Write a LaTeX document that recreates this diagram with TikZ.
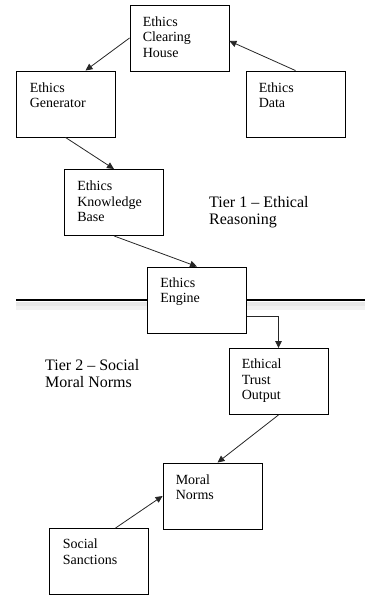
\documentclass[tikz,border=0pt]{standalone}
\usepackage{fontspec}
\setmainfont{Liberation Serif}
\usetikzlibrary{arrows.meta,calc}
\begin{document}
\begin{tikzpicture}[x=1pt,y=-1pt,
  box/.style={draw=black,fill=white,line width=0.9pt,minimum width=99pt,minimum height=66pt,inner sep=0pt},
  lab/.style={anchor=north west,inner sep=0pt,align=left,font=\fontsize{14}{15.5}\selectfont},
  tier/.style={anchor=north west,inner sep=0pt,align=left,font=\fontsize{16}{17}\selectfont},
  conn/.style={draw=black!85,line width=0.8pt,-{Triangle[length=7pt,width=6.5pt]}}]
\useasboundingbox (0,0) rectangle (365,596);
% tier divider with shadow
\coordinate (hl) at (16,300);
\coordinate (hr) at (365,300);
\draw[line width=8pt,black!5] ([yshift=-6pt]hl) -- ([yshift=-6pt]hr);
\draw[line width=4pt,black!9] ([yshift=-4pt]hl) -- ([yshift=-4pt]hr);
\draw[line width=2.2pt,black] (hl) -- (hr);
% boxes
\node[box] (ch) at (179.5,38) {};
\node[box] (gen) at (65.5,104) {};
\node[box] (data) at (295.5,104) {};
\node[box] (kb) at (114,202.5) {};
\node[box] (eng) at (197,300) {};
\node[box] (trust) at (278.5,381.5) {};
\node[box] (moral) at (212.5,496) {};
\node[box] (soc) at (98.5,561.5) {};
% labels
\node[lab] (chl) at ($(ch.north west)+(13,12)$) {Ethics\\Clearing\\House};
\node[lab] (genl) at ($(gen.north west)+(14,12)$) {Ethics\\Generator};
\node[lab] (datal) at ($(data.north west)+(13,12)$) {Ethics\\Data};
\node[lab] (kbl) at ($(kb.north west)+(13,12)$) {Ethics\\Knowledge\\Base};
\node[lab] (engl) at ($(eng.north west)+(13,11)$) {Ethics\\Engine};
\node[lab] (trustl) at ($(trust.north west)+(13,11)$) {Ethical\\Trust\\Output};
\node[lab] (morall) at ($(moral.north west)+(13,12)$) {Moral\\Norms};
\node[lab] (socl) at ($(soc.north west)+(14,11)$) {Social\\Sanctions};
\node[tier] (t1) at (209,196) {Tier 1 -- Ethical\\Reasoning};
\node[tier] (t2) at (45,359) {Tier 2 -- Social\\Moral Norms};
% connectors
\draw[conn] (ch.west) -- ($(gen.north west)!0.7!(gen.north east)$);
\draw[conn] (data.north) -- ([yshift=-3pt]ch.east);
\draw[conn] (gen.south) -- (kb.north);
\draw[conn] (kb.south) -- (eng.north);
\draw[conn] ([yshift=-16pt]eng.east) -| (trust.north);
\draw[conn] (trust.south) -- ($(moral.north west)!0.55!(moral.north east)$);
\draw[conn] ($(soc.north west)!0.67!(soc.north east)$) -- (moral.west);
\end{tikzpicture}
\end{document}
